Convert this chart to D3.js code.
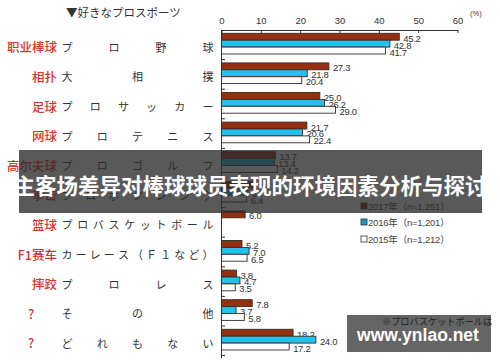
<!DOCTYPE html>
<html><head><meta charset="utf-8">
<script src="https://cdn.jsdelivr.net/npm/d3@7"></script>
<style>
html,body{margin:0;padding:0;background:#fff;}
svg{display:block;}
</style></head>
<body>
<svg id="c" width="500" height="362"></svg>
<script>
const categories = ["职业棒球","相扑","足球","网球","高尔夫球","拳击","篮球","F1赛车","摔跤","?","?"];
const jpLabels = ["プロ野球","大相撲","プロサッカー","プロテニス","プロゴルフ","プロボクシング","プロバスケットボール","カーレース（Ｆ１など）","プロレス","その他","どれもない"];
const v2017 = [45.2,27.3,25.0,21.7,13.7,7.9,6.0,5.2,3.8,7.8,18.2];
const v2016 = [42.8,21.8,26.2,20.6,13.4,6.7,null,7.0,4.7,3.7,24.0];
const v2015 = [41.7,20.4,29.0,22.4,14.2,6.4,null,6.5,3.5,5.8,17.2];
const seriesNames = ["2017年（n=1,251）","2016年（n=1,201）","2015年（n=1,212）"];
const xTicks = [0,10,20,30,40,50,60];
const title = "▼好きなプロスポーツ";
const overlayTitle = "主客场差异对棒球球员表现的环境因素分析与探讨";
const watermark = "www.ynlao.net";
const noteText = "※プロバスケットボールは";

const svg = d3.select("#c");
const colors = ["#962f10","#22c2ec","#ffffff"];
const series = [v2017, v2016, v2015];

const x = d3.scaleLinear().domain([0,60]).range([221.5,457.5]);
const y = d3.scaleBand().domain(d3.range(categories.length)).range([30, 30+29.6*categories.length]).paddingInner(0);
const yi = d3.scaleBand().domain([0,1,2]).range([3.3, 24]);

const sans = "'Liberation Sans', Arial, 'Noto Sans CJK JP', sans-serif";

// title
svg.append("text").attr("x",66).attr("y",12).attr("dominant-baseline","central")
  .attr("font-family","'Noto Sans CJK JP', sans-serif").attr("font-size",11.5).attr("fill","#333").text(title);

// top axis
const ax = svg.append("g").attr("transform","translate(0,30)")
  .call(d3.axisTop(x).tickValues(xTicks).tickSize(-3).tickSizeOuter(0).tickPadding(6).tickFormat(d3.format("d")));
ax.select(".domain").attr("stroke","#333");
ax.selectAll(".tick line").attr("stroke","#333");
ax.selectAll(".tick text").attr("font-family",sans).attr("font-size",9.5).attr("fill","#333");
svg.append("text").attr("x",470).attr("y",16).attr("font-family",sans).attr("font-size",7.5).attr("fill","#333").text("(%)");

// left axis line
svg.append("line").attr("x1",x(0)).attr("x2",x(0)).attr("y1",30).attr("y2",y.range()[1]+2.5).attr("stroke","#333");
d3.range(1,categories.length+1).forEach(k=>{
  const yy = 30 + y.step()*k;
  svg.append("line").attr("x1",x(0)).attr("x2",x(0)+3.5).attr("y1",yy).attr("y2",yy).attr("stroke","#333");
});

// bars
const g = svg.append("g");
categories.forEach((c,i)=>{
  series.forEach((s,j)=>{
    const v = s[i];
    if(v==null) return;
    const top = y(i)+yi(j);
    g.append("rect").attr("x",x(0)).attr("y",top).attr("width",x(v)-x(0)).attr("height",yi.bandwidth())
      .attr("fill",colors[j]).attr("stroke","#3a2a22").attr("stroke-width",0.9);
    g.append("text").attr("x",x(v)+4).attr("y",top+yi.bandwidth()/2+1.5).attr("dominant-baseline","central")
      .attr("font-family",sans).attr("font-size",9.5).attr("letter-spacing",-0.3).attr("fill","#333").text(v.toFixed(1));
  });
  // red labels
  const cy = y(i)+y.bandwidth()/2+2;
  const isQ = c==="?";
  svg.append("text").attr("x",isQ?31:57).attr("y",cy).attr("dominant-baseline","central")
    .attr("text-anchor",isQ?"middle":"end")
    .attr("font-family","'Noto Sans CJK SC', sans-serif").attr("font-weight",500).attr("font-size",12.5)
    .attr("fill","#d8322c").text(c);
  // japanese distributed
  const chars = Array.from(jpLabels[i]);
  const cx = d3.scalePoint().domain(d3.range(chars.length)).range([67,208]);
  chars.forEach((ch,k)=>{
    svg.append("text").attr("x",cx(k)).attr("y",cy).attr("dominant-baseline","central").attr("text-anchor","middle")
      .attr("font-family","'Noto Sans CJK JP', sans-serif").attr("font-size",11).attr("fill","#333").text(ch);
  });
});

// legend
const legY = [206,222,239];
seriesNames.forEach((n,j)=>{
  svg.append("rect").attr("x",361).attr("y",legY[j]-3).attr("width",6).attr("height",6)
    .attr("fill",j===1?"#1a9bc4":colors[j]).attr("stroke","#333").attr("stroke-width",0.8);
  svg.append("text").attr("x",368).attr("y",legY[j]).attr("dominant-baseline","central")
    .attr("font-family",sans).attr("font-size",9.5).attr("letter-spacing",-0.2).attr("fill","#444").text(n);
});

// overlay banner
svg.append("rect").attr("x",19).attr("y",150).attr("width",463).attr("height",63).attr("fill","#2a2a2a").attr("opacity",0.78);
svg.append("text").attr("x",250).attr("y",184).attr("dominant-baseline","central").attr("text-anchor","middle")
  .attr("font-family","'Noto Sans CJK SC', sans-serif").attr("font-weight",700).attr("font-size",21.5)
  .attr("fill","#fff").text(overlayTitle);

// watermark
svg.append("rect").attr("x",347).attr("y",315).attr("width",144).attr("height",37).attr("fill","#505050").attr("opacity",0.88);
svg.append("text").attr("x",382).attr("y",321).attr("dominant-baseline","central")
  .attr("font-family","'Noto Sans CJK JP', sans-serif").attr("font-size",9.2).attr("fill","#222").text(noteText);
svg.append("text").attr("x",418).attr("y",335).attr("dominant-baseline","central").attr("text-anchor","middle")
  .attr("font-family",sans).attr("font-weight",700).attr("font-size",17.5).attr("fill","#fff").text(watermark);
</script>
</body></html>
